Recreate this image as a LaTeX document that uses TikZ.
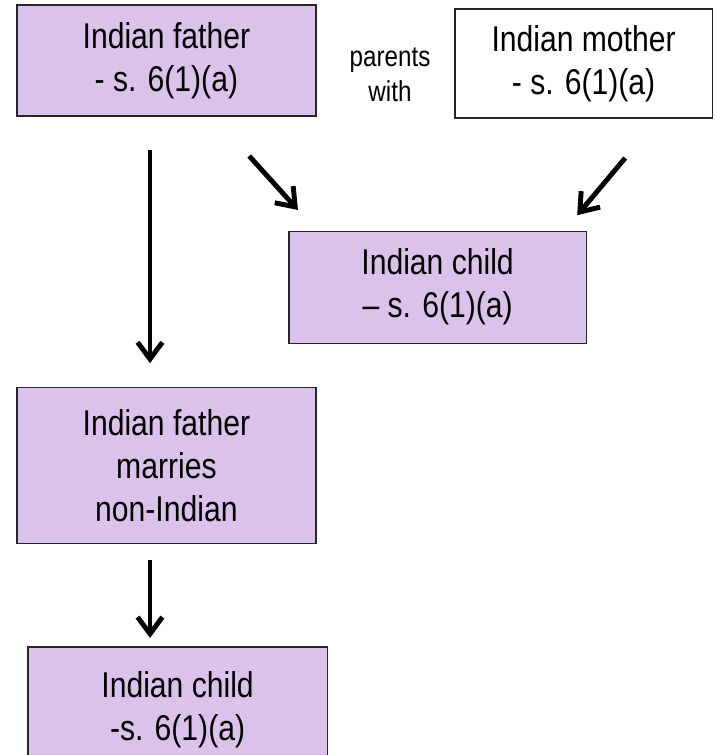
\documentclass[tikz,border=0pt]{standalone}
\usepackage{fontspec}
\setmainfont{Liberation Sans}[FakeStretch=0.84]
\usepackage{xcolor}
\usepackage{tikz}
\usetikzlibrary{positioning,arrows.meta}
\definecolor{boxpurple}{RGB}{219,194,235}
\tikzset{
    person box/.style={rectangle, draw=black!85, line width=1pt, fill=boxpurple, align=center,
        inner sep=0pt, font=\fontsize{25.5pt}{30.6pt}\selectfont},
    plain box/.style={person box, fill=white},
    link label/.style={align=center, inner sep=0pt, font=\fontsize{20.5pt}{24.9pt}\selectfont},
    flow arrow/.style={-{Straight Barb[length=0.42cm, width=0.62cm]}, line width=3.5pt, black}
}

\begin{document}
\begin{tikzpicture}
    \useasboundingbox (0,0) rectangle (17.9,-18.875);

    % Parents
    \node[person box, minimum width=7.48cm, minimum height=2.78cm] (father) at (4.16,-1.51) {Indian father\\- s. 6(1)(a)};
    \node[plain box, minimum width=6.43cm, minimum height=2.73cm] (mother) at (14.59,-1.59) {Indian mother\\- s. 6(1)(a)};
    \node[link label] (parents) at (9.75,-1.87) {parents\\with};

    % Child of the two parents
    \node[person box, minimum width=7.43cm, minimum height=2.80cm] (child) at (10.94,-7.18) {Indian child\\-- s. 6(1)(a)};

    % Marriage line
    \node[person box, minimum width=7.48cm, minimum height=3.90cm] (marriage) at (4.16,-11.63) {Indian father\\marries\\non-Indian};
    \node[person box, minimum width=7.48cm, minimum height=3.15cm] (marriage child) at (4.44,-17.75) {Indian child\\-s. 6(1)(a)};

    % Arrow ends
    \coordinate (F-down) at (3.75,-3.75);
    \coordinate (M-up) at (3.75,-9.08);
    \coordinate (F-diag) at (6.23,-3.90);
    \coordinate (C-left) at (7.45,-5.25);
    \coordinate (Mo-diag) at (15.63,-3.95);
    \coordinate (C-right) at (14.43,-5.38);
    \coordinate (M-down) at (3.75,-14.0);
    \coordinate (MC-up) at (3.75,-15.95);

    % Arrows
    \draw[flow arrow] (F-down) -- (M-up);
    \draw[flow arrow] (F-diag) -- (C-left);
    \draw[flow arrow] (Mo-diag) -- (C-right);
    \draw[flow arrow] (M-down) -- (MC-up);
\end{tikzpicture}
\end{document}
